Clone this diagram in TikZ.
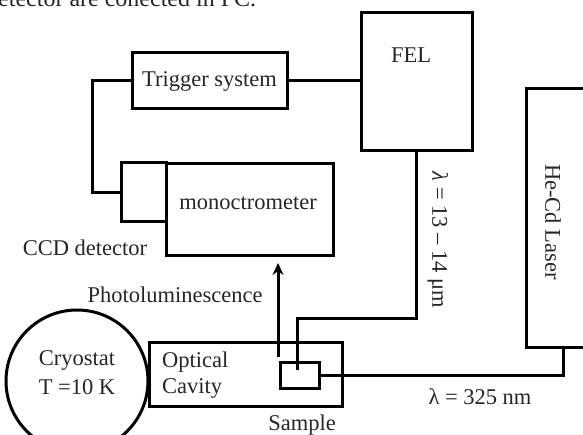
\documentclass[tikz,border=0pt]{standalone}
\usepackage{fontspec}
\setmainfont{Liberation Serif}
\usetikzlibrary{arrows.meta}
\begin{document}
\begin{tikzpicture}[x=1pt,y=-1pt,
  every node/.style={font=\fontsize{22.5}{26}\selectfont, text=black!85},
  box/.style={draw, line width=3pt, inner sep=0pt, outer sep=0pt},
  wire/.style={line width=3pt},
  lbl/.style={inner sep=0pt}]
\useasboundingbox (0,0) rectangle (583,435);
\clip (0,0) rectangle (583,435);
% partial caption line at top
\node[lbl, anchor=base west, font=\fontsize{24}{28}\selectfont] (cap) at (-2,6.5) {etector are conected in PC.};
% boxes
\node[box, minimum width=155pt, minimum height=56pt] (trig) at (209.5,81) {Trigger system};
\node[box, minimum width=111pt, minimum height=138pt] (fel) at (416.5,82) {};
\node[lbl] (feltxt) at (411,55) {FEL};
\node[box, minimum width=45pt, minimum height=59pt] (ccd) at (143.5,192.5) {};
\node[box, minimum width=167pt, minimum height=92pt] (mono) at (249.5,210) {};
\node[lbl] (monotxt) at (248,203) {monoctrometer};
\node[lbl] (ccdtxt) at (85,248) {CCD detector};
\node[box, minimum width=74pt, minimum height=258pt] (laser) at (563,218) {};
\node[lbl, rotate=-90] (lasertxt) at (553,222) {He-Cd Laser};
\node[box, circle, minimum size=142pt] (cryo) at (77,381) {};
\node[lbl] (cryotxt1) at (77,360) {Cryostat};
\node[lbl] (cryotxt2) at (77,387) {T =10 K};
\node[box, minimum width=193pt, minimum height=64pt] (cav) at (245.5,374) {};
\node[lbl, anchor=west] (cavtxt1) at (162,362) {Optical};
\node[lbl, anchor=west] (cavtxt2) at (162,388) {Cavity};
\node[box, minimum width=39pt, minimum height=26pt] (samp) at (299.5,375.5) {};
\node[lbl] (samptxt) at (302,425) {Sample};
\node[lbl] (pltxt) at (175,295) {Photoluminescence};
\node[lbl, rotate=-90] (feltxt2) at (438,240) {\textit{λ} = 13 – 14 μm};
\node[lbl] (lasertxt2) at (480,397) {λ = 325 nm};
% connectors
\draw[wire] (trig.west) -- ++(-40,0) |- (ccd.west);
\draw[wire] (trig.east) -- (trig.east -| fel.west);
\coordinate (felturn) at (297,318);
\coordinate (felend) at (297,370);
\draw[wire] (fel.south) |- (felturn) -- (felend);
\coordinate (plstart) at (278,357);
\draw[wire, -{Stealth[length=12pt,width=11pt]}, shorten >=7pt] (plstart) -- (plstart |- mono.south);
\draw[wire] (samp.east) -| (laser.south);
\end{tikzpicture}
\end{document}
